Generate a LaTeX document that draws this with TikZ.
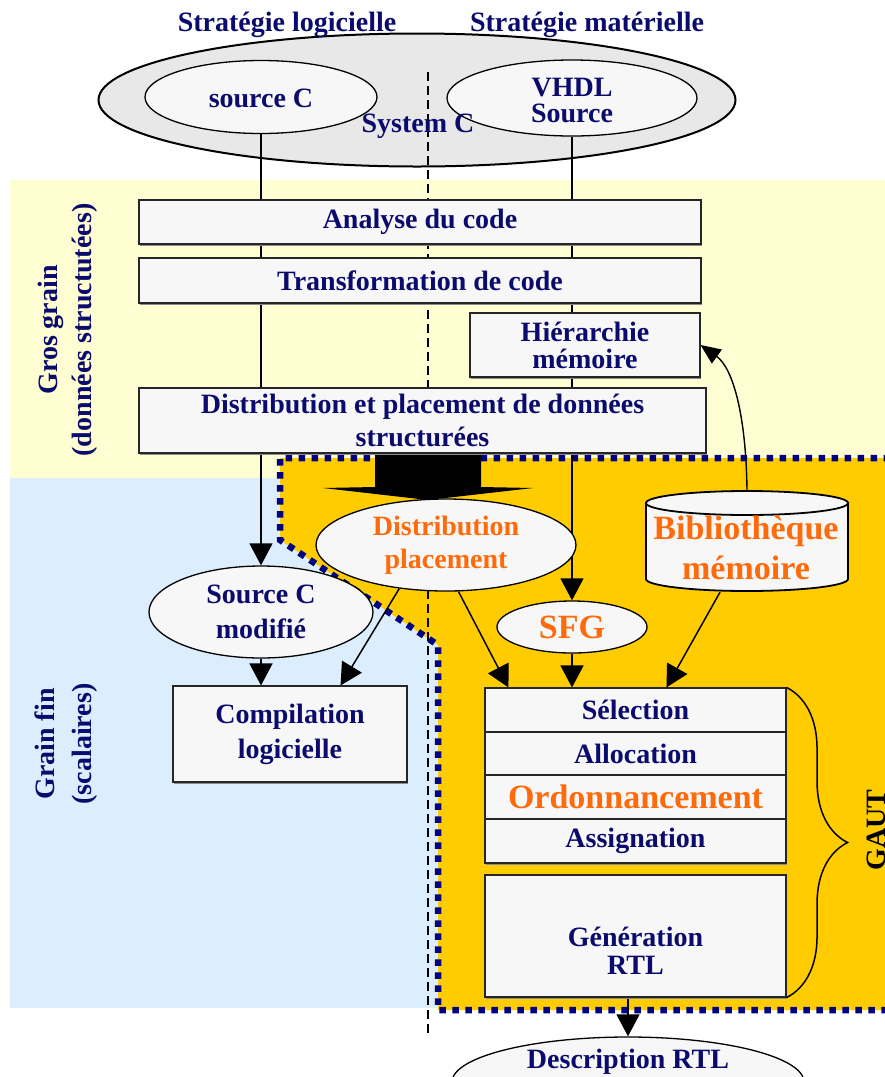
\documentclass[tikz,border=0pt]{standalone}
\usepackage{fontspec}
\setmainfont{Liberation Serif}
\usetikzlibrary{arrows.meta,shapes.geometric,decorations.pathreplacing,shadows}
\definecolor{navy}{HTML}{0B0B6E}
\definecolor{orangeT}{HTML}{FF6A0A}
\definecolor{bandyellow}{HTML}{FFFDD2}
\definecolor{bandblue}{HTML}{DCEDFD}
\definecolor{gautorange}{HTML}{FFCC00}
\definecolor{borderblue}{HTML}{000080}
\definecolor{boxfill}{HTML}{F7F7F7}
\definecolor{sysfill}{HTML}{E8E8E8}
\pgfdeclarelayer{bg}
\pgfdeclarelayer{edges}
\pgfsetlayers{bg,edges,main}
\begin{document}
\begin{tikzpicture}[x=1pt,y=-1pt,
  txt/.style={font=\fontsize{28}{33}\selectfont\bfseries, text=navy, align=center, inner sep=0pt},
  otxt/.style={font=\fontsize{34}{40}\selectfont\bfseries, text=orangeT, align=center, inner sep=0pt},
  stepbox/.style={rectangle, draw=black!85, line width=1.1pt, fill=boxfill, inner sep=0pt,
    drop shadow={shadow xshift=0.6pt, shadow yshift=-1.8pt, fill=black!45, opacity=1}},
  bubble/.style={ellipse, draw=black, line width=1.3pt, fill=boxfill, inner sep=0pt},
  arr/.style={draw=black, line width=1.5pt, -{Triangle[length=22pt,width=23pt]}},
  thinarr/.style={draw=black, line width=1.4pt, -{Triangle[length=20pt,width=17pt]}},
  sepline/.style={draw=black, line width=1.3pt, dash pattern=on 9pt off 5pt},
  gautborder/.style={draw=borderblue, line width=6.5pt, dash pattern=on 6.5pt off 6.5pt}
]
\useasboundingbox (0,0) rectangle (885,1077);

% ---- background bands and the GAUT zone ----
\begin{pgfonlayer}{bg}
  \fill[white] (0,0) rectangle (885,1077);
  \fill[bandyellow] (10,180) rectangle (890,478);
  \fill[bandblue] (10,478) rectangle (440,1008);
  \fill[gautorange] (280,458) -- (890,458) -- (890,1010) -- (438,1010) -- (438,645) -- (280,540) -- cycle;
  \draw[gautborder] (890,458) -- (280,458) -- (280,540) -- (438,645) -- (438,1010) -- (890,1010);
  % SystemC envelope
  \node[ellipse, draw=black, line width=2pt, fill=sysfill, minimum width=637pt, minimum height=133pt] (sysc) at (417,100) {};
\end{pgfonlayer}

% ---- headings ----
\node[txt] (hsoft) at (287,25) {Stratégie logicielle};
\node[txt] (hhard) at (587,25) {Stratégie matérielle};

% ---- sources ----
\node[bubble, minimum width=232pt, minimum height=73pt] (srcC) at (261,97) {};
\node[txt] (srcCtxt) at (261,98) {source C};
\node[bubble, minimum width=250pt, minimum height=76pt] (vhdl) at (572,98) {};
\node[txt, font=\fontsize{28}{26}\selectfont\bfseries] (vhdltxt) at (572,100) {VHDL\\Source};
\node[txt] (systemc) at (418,126) {System C};

% ---- coarse grain steps ----
\node[stepbox, txt, minimum width=562pt, minimum height=44pt] (analyse) at (420,222) {Analyse du code};
\node[stepbox, txt, minimum width=562pt, minimum height=45pt] (transf) at (420,280.5) {Transformation de code};
\node[stepbox, txt, font=\fontsize{28}{27}\selectfont\bfseries, minimum width=230pt, minimum height=64pt] (hier) at (585,345) {Hiérarchie\\mémoire};
\node[stepbox, txt, minimum width=567pt, minimum height=65pt] (distrib) at (422.5,420.5) {Distribution et placement de données\\structurées};

% ---- fine grain ----
\node[bubble, otxt, font=\fontsize{28}{33}\selectfont\bfseries, minimum width=260pt, minimum height=92pt] (distpl) at (446,545) {Distribution\\placement};
\node[bubble, txt, font=\fontsize{28}{34.5}\selectfont\bfseries, minimum width=224pt, minimum height=92pt] (srcmod) at (261,612) {Source C\\modifié};
\node[stepbox, txt, font=\fontsize{28}{35}\selectfont\bfseries, minimum width=234pt, minimum height=96pt] (compil) at (290,734) {Compilation\\logicielle};
\node[bubble, otxt, minimum width=150pt, minimum height=52pt] (sfg) at (572,627) {SFG};

% memory library (cylinder)
\filldraw[fill=boxfill, draw=black, line width=1.8pt]
  (646,503) -- (646,579) arc[start angle=180, end angle=0, x radius=101, y radius=12] -- (848,503) -- cycle;
\filldraw[fill=boxfill, draw=black, line width=1.8pt] (747,503) ellipse[x radius=101, y radius=12];
\node[minimum width=202pt, minimum height=102pt, inner sep=0pt] (biblio) at (747,541) {};
\node[otxt] (bibtxt) at (746,548) {Bibliothèque\\mémoire};

% GAUT pipeline
\node[stepbox, txt, minimum width=301pt, minimum height=44pt] (sel) at (635.5,710) {Sélection};
\node[stepbox, txt, minimum width=301pt, minimum height=43pt] (alloc) at (635.5,753.5) {Allocation};
\node[stepbox, otxt, minimum width=301pt, minimum height=44pt] (ordo) at (635.5,797) {Ordonnancement};
\node[stepbox, txt, minimum width=301pt, minimum height=44pt] (assign) at (635.5,841) {Assignation};
\node[stepbox, minimum width=301pt, minimum height=122pt] (gen) at (635.5,936) {};
\node[txt, font=\fontsize{28}{28}\selectfont\bfseries] (gentxt) at (635.5,951) {Génération\\RTL};

\node[bubble, minimum width=352pt, minimum height=90pt] (desc) at (628,1082) {};
\node[txt] (desctxt) at (628,1062) {Description RTL};

\draw[line width=1.5pt, decorate, decoration={brace, amplitude=61pt}] (sel.north east) -- (gen.south east);
\node[txt, text=black, rotate=90] (gaut) at (876,830) {GAUT};

% ---- band titles ----
\node[txt, font=\fontsize{28}{34}\selectfont\bfseries, rotate=90] (gros) at (68,330) {Gros grain\\(données structutées)};
\node[txt, font=\fontsize{28}{37}\selectfont\bfseries, rotate=90] (fin) at (66,744) {Grain fin\\(scalaires)};

% ---- connectors ----
\coordinate (dtop) at (428,72);
\coordinate (dbot) at (428,1035);
\begin{pgfonlayer}{edges}
  \draw[sepline] (dtop) -- (dbot);
  \draw[arr] (srcC.south) -- (srcmod.north);
  \draw[arr] (vhdl.south) -- (sfg.north);
  % wide flow arrow into the data distribution
  \fill[black] (375,452) -- (481,452) -- (481,487) -- (533,488) -- (428,500) -- (323,488) -- (375,487) -- cycle;
  \draw[arr] (distpl.223) -- ([xshift=-67pt]compil.north east);
  \draw[arr] (distpl.285) -- ([xshift=24pt]sel.north west);
  \draw[arr] (sfg.south) -- (sfg.south |- sel.north);
  \draw[arr] ([xshift=-27pt]biblio.south) -- ([xshift=182pt]sel.north west);
  \draw[arr] (srcmod.south) -- (srcmod.south |- compil.north);
  \draw[arr] (desc.north |- gen.south) -- (desc.north);
  \draw[thinarr] (biblio.north) .. controls (746,415) and (733,368) .. (hier.east);
\end{pgfonlayer}
\end{tikzpicture}
\end{document}
